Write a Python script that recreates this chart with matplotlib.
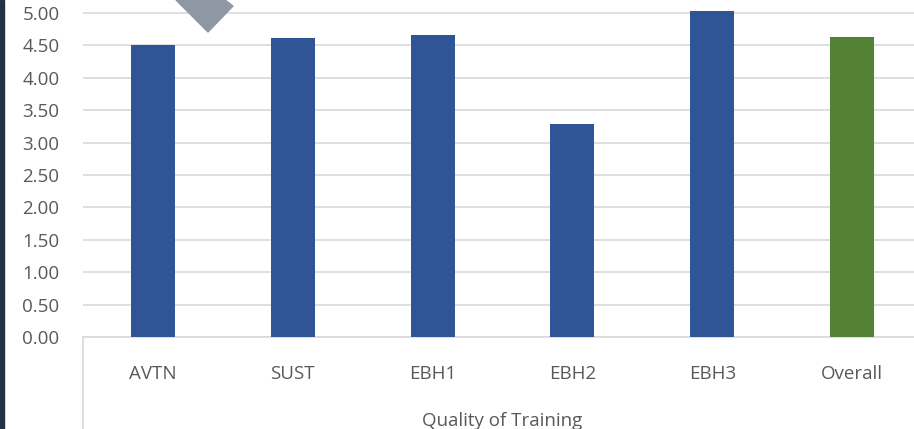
import numpy as np
import matplotlib
matplotlib.use('Agg')
import matplotlib.pyplot as plt
from matplotlib.patches import Polygon, Rectangle
from matplotlib.lines import Line2D

# values
sites = ['AVTN', 'SUST', 'EBH1', 'EBH2', 'EBH3', 'Overall']
scores = [4.50, 4.62, 4.66, 3.29, 5.03, 4.63]
bar_colors = ['#2F5597'] * 5 + ['#548235']
group_label = 'Quality of Training'
yticks = np.arange(0, 5.01, 0.5)

W, H = 914, 429
plt.rcParams['font.family'] = ['Open Sans', 'DejaVu Sans']
fig = plt.figure(figsize=(W / 100, H / 100), dpi=100)
fig.patch.set_facecolor('white')

# axes runs a little past the right edge, like the cropped slide
ax = fig.add_axes([83 / W, 92 / H, 839 / W, 337 / H])
x = np.arange(len(sites))
ax.bar(x, scores, width=0.315, color=bar_colors, zorder=3)

ax.set_xlim(-0.5, len(sites) - 0.5)
ax.set_ylim(0, 5.2)
ax.set_yticks(yticks)
ax.set_yticklabels(['%.2f' % v for v in yticks])
ax.set_xticks(x)
ax.set_xticklabels(sites)
ax.grid(axis='y', color='#D9D9D9', linewidth=1.2, zorder=0)
ax.tick_params(axis='y', length=0, pad=17, labelsize=13.5, labelcolor='#595959')
ax.tick_params(axis='x', length=0, pad=20, labelsize=13.5, labelcolor='#595959')
for s in ['top', 'right', 'left']:
    ax.spines[s].set_visible(False)
ax.spines['bottom'].set_color('#D9D9D9')
ax.spines['bottom'].set_linewidth(1.2)

# multi-level category box: left edge under the axis and the group label
ax.add_line(Line2D([0, 0], [0, -0.4], transform=ax.transAxes, color='#D9D9D9',
                   linewidth=1.2, clip_on=False))
ax.text(0.5, -0.25, group_label, transform=ax.transAxes, ha='center', va='center',
        fontsize=13.5, color='#595959')

# dark strip on the slide's left edge
fig.add_artist(Rectangle((0, 0), 4 / W, 1, transform=fig.transFigure,
                         color='#243045', zorder=5))

# grey callout arrow cut off at the top
arrow = [(176, 0), (208, 32), (233, 6), (225, 0)]
fig.add_artist(Polygon([(px / W, 1 - py / H) for px, py in arrow], closed=True,
                       transform=fig.transFigure, color='#8F97A5', zorder=5))

fig.savefig('out.png', dpi=100)
